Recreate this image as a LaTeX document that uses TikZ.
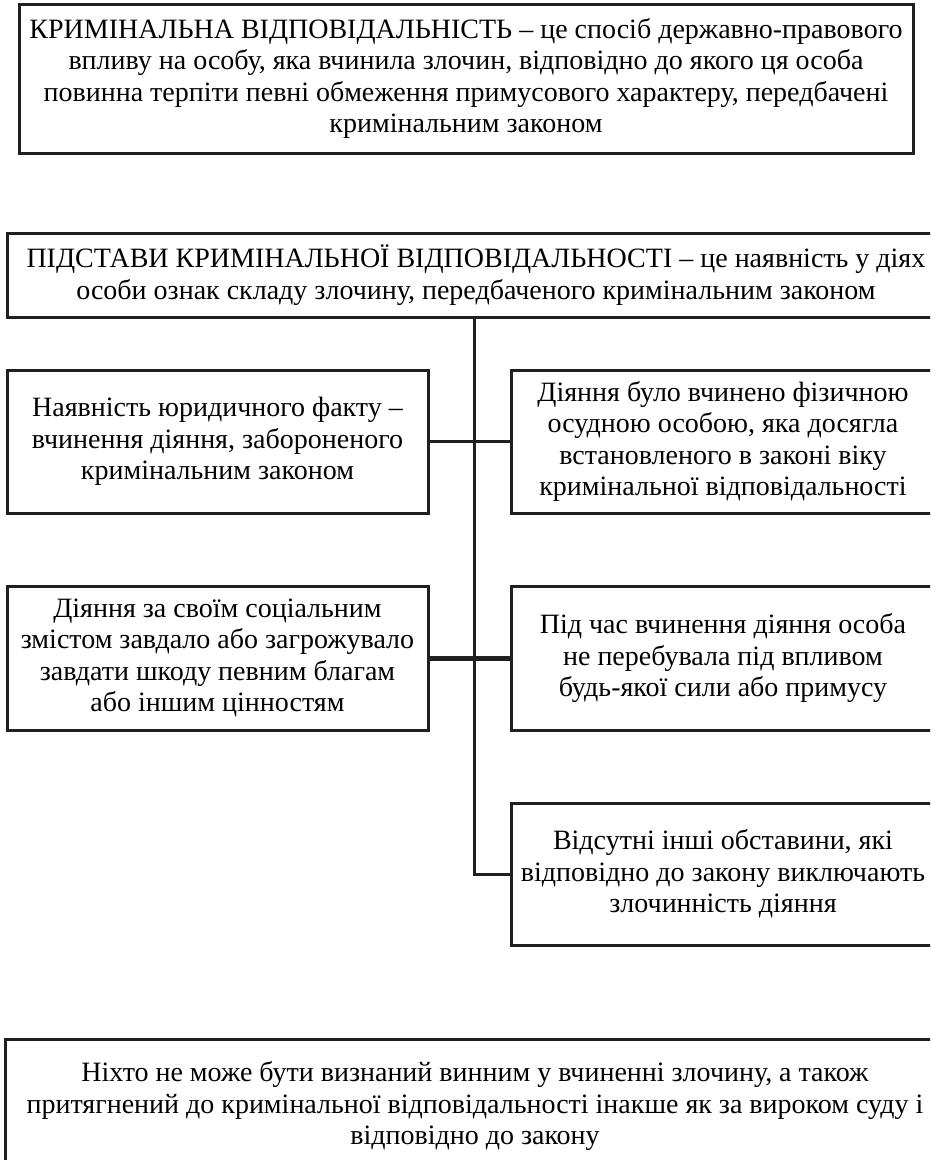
\documentclass[tikz,border=0pt]{standalone}
\usepackage{fontspec}
\setmainfont{Liberation Serif}
\definecolor{ink}{HTML}{231F20}
\tikzset{
  box/.style={draw=ink, line width=3pt, rectangle, inner sep=0pt, align=center,
    font=\fontsize{28}{31.5}\selectfont, text=black},
  link/.style={draw=ink, line width=3pt},
  thicklink/.style={draw=ink, line width=5pt}
}
\begin{document}
\begin{tikzpicture}[x=1pt,y=-1pt]
\useasboundingbox[fill=white] (0,0) rectangle (930,1160);
\clip (0,0) rectangle (930,1160);
\node[box, minimum width=894pt, minimum height=149pt] (top) at (466,78.5)
 {КРИМІНАЛЬНА ВІДПОВІДАЛЬНІСТЬ – це спосіб державно-правового\\
  впливу на особу, яка вчинила злочин, відповідно до якого ця особа\\
  повинна терпіти певні обмеження примусового характеру, передбачені\\
  кримінальним законом};
\node[box, minimum width=938pt, minimum height=84pt] (base) at (476,275)
 {ПІДСТАВИ КРИМІНАЛЬНОЇ ВІДПОВІДАЛЬНОСТІ – це наявність у діях\\
  особи ознак складу злочину, передбаченого кримінальним законом};
\node[box, minimum width=421pt, minimum height=143pt] (A) at (217.5,441.5)
 {Наявність юридичного факту –\\вчинення діяння, забороненого\\кримінальним законом};
\node[box, minimum width=424pt, minimum height=143pt] (B) at (723,441.5)
 {Діяння було вчинено фізичною\\осудною особою, яка досягла\\встановленого в законі віку\\кримінальної відповідальності};
\node[box, minimum width=421pt, minimum height=144pt] (C) at (217.5,658)
 {Діяння за своїм соціальним\\змістом завдало або загрожувало\\завдати шкоду певним благам\\або іншим цінностям};
\node[box, minimum width=424pt, minimum height=144pt] (D) at (723,658)
 {Під час вчинення діяння особа\\не перебувала під впливом\\будь-якої сили або примусу};
\node[box, minimum width=424pt, minimum height=142pt] (E) at (723,874)
 {Відсутні інші обставини, які\\відповідно до закону виключають\\злочинність діяння};
\node[box, minimum width=940pt, minimum height=134pt] (F) at (475,1106)
 {Ніхто не може бути визнаний винним у вчиненні злочину, а також\\
  притягнений до кримінальної відповідальності інакше як за вироком суду і\\
  відповідно до закону};
\coordinate (spine) at (474,0);
\draw[link] (base.south -| spine) |- (E.west);
\draw[link] (A.east) -- (B.west);
\draw[thicklink] (C.east) -- (D.west);
\end{tikzpicture}
\end{document}
